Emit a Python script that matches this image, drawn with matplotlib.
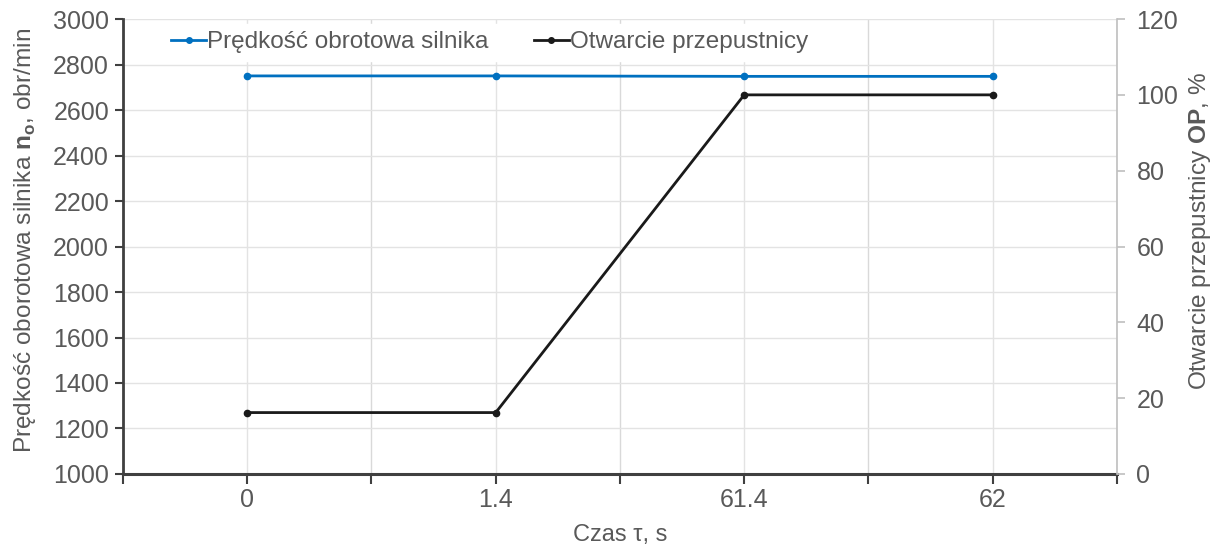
import matplotlib
matplotlib.use("Agg")
import matplotlib.pyplot as plt
from matplotlib.lines import Line2D

plt.rcParams['font.family'] = ['Liberation Sans', 'DejaVu Sans']
plt.rcParams['mathtext.fontset'] = 'custom'
plt.rcParams['mathtext.rm'] = 'Liberation Sans'
plt.rcParams['mathtext.bf'] = 'Liberation Sans:bold'

# dane
czas = ['0', '1.4', '61.4', '62']
predkosc = [2750, 2750, 2748, 2748]
otwarcie = [16.2, 16.2, 100, 100]

szary = '#595959'
x = list(range(len(czas)))

fig = plt.figure(figsize=(12.25, 5.44), dpi=100)
ax1 = fig.add_axes([0.1004, 0.1287, 0.8114, 0.8363])
ax2 = ax1.twinx()

ax1.plot(x, predkosc, '-o', color='#0070C0', linewidth=2, markersize=4.5)
ax2.plot(x, otwarcie, '-o', color='#1a1a1a', linewidth=2, markersize=4.5)

ax1.set_xlim(-0.5, len(czas) - 0.5)
ax1.set_ylim(1000, 3000)
ax1.set_yticks(range(1000, 3001, 200))
ax2.set_ylim(0, 120)
ax2.set_yticks(range(0, 121, 20))

ax1.set_xticks(x)
ax1.set_xticklabels(czas)
ax1.set_xticks([i - 0.5 for i in range(len(czas) + 1)], minor=True)

# siatka
ax1.grid(True, which='major', axis='both', color='#e3e3e3', linewidth=1)
ax1.grid(True, which='minor', axis='x', color='#d9d9d9', linewidth=1)
ax1.set_axisbelow(True)

ax1.spines['top'].set_visible(False)
ax2.spines['top'].set_visible(False)
ax1.spines['left'].set_color('#404040')
ax1.spines['left'].set_linewidth(2)
ax1.spines['bottom'].set_color('#404040')
ax1.spines['bottom'].set_linewidth(2.2)
ax2.spines['left'].set_visible(False)
ax2.spines['bottom'].set_visible(False)
ax2.spines['right'].set_color('#bfbfbf')
ax2.spines['right'].set_linewidth(1.2)
ax1.spines['right'].set_visible(False)

ax1.tick_params(axis='y', which='major', direction='out', length=6, width=1.5,
                color='#404040', labelcolor=szary, labelsize=18, pad=4)
ax1.tick_params(axis='x', which='both', direction='out', length=7, width=1.5,
                color='#404040', labelcolor=szary, labelsize=18, pad=3)
ax2.tick_params(axis='y', direction='out', length=6, width=1.2,
                color='#bfbfbf', labelcolor=szary, labelsize=18, pad=8)

ax1.set_ylabel(r'Prędkość oborotowa silnika $\mathbf{n}_\mathbf{o}$, obr/min',
               fontsize=17.6, color=szary)
ax1.yaxis.set_label_coords(-0.086, 0.514)
ax2.set_ylabel(r'Otwarcie przepustnicy $\mathbf{OP}$, %', fontsize=17.6,
               color=szary)
ax2.yaxis.set_label_coords(1.0704, 0.534)
ax1.set_xlabel('Czas τ, s', fontsize=17, color=szary, labelpad=9)

uchwyty = [
    Line2D([], [], color='#0070C0', marker='o', linewidth=2, markersize=4),
    Line2D([], [], color='#1a1a1a', marker='o', linewidth=2, markersize=4),
]
leg = ax2.legend(uchwyty, ['Prędkość obrotowa silnika', 'Otwarcie przepustnicy'],
                 loc='center', bbox_to_anchor=(0.369, 0.949), ncol=2,
                 fontsize=17.5, frameon=True, framealpha=1, fancybox=False,
                 edgecolor='white', handlelength=1.45, handletextpad=0.05,
                 columnspacing=1.85, borderpad=0.3, labelcolor=szary)

fig.savefig('out.png', dpi=100)
